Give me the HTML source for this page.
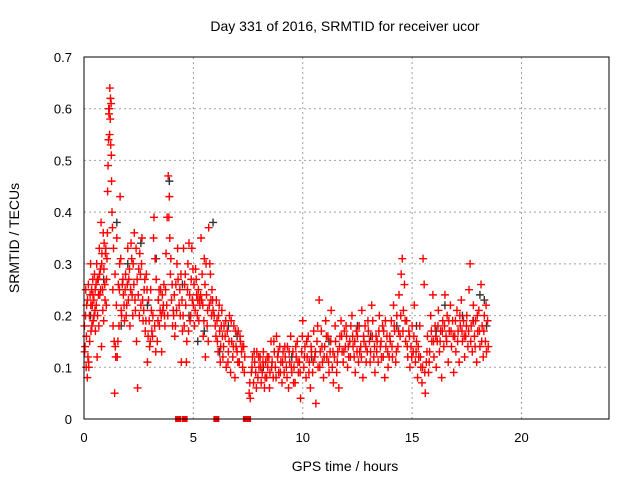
<!DOCTYPE html>
<html><head><meta charset="utf-8"><style>
body{margin:0;background:#fff}
svg{display:block;font-family:"Liberation Sans",sans-serif}
</style></head><body>
<svg id="chart" width="640" height="480" viewBox="0 0 640 480" xmlns="http://www.w3.org/2000/svg">
<rect width="640" height="480" fill="#fff"/>
<text x="345" y="31" font-size="14" text-anchor="middle">Day 331 of 2016, SRMTID for receiver ucor</text>
<text transform="translate(19,238) rotate(-90)" font-size="14" text-anchor="middle">SRMTID / TECUs</text>
<text x="345" y="471" font-size="14" text-anchor="middle">GPS time / hours</text>
<g id="grid"></g><g id="ticks"></g><g id="marks"></g>
<rect x="84" y="57" width="525" height="362" fill="none" stroke="#000" stroke-width="1"/>
</svg>
<script>
const xTicks=[0,5,10,15,20];
const yTicks=[0,0.1,0.2,0.3,0.4,0.5,0.6,0.7];
const yTickLabels=["0","0.1","0.2","0.3","0.4","0.5","0.6","0.7"];
const zeroTimes=[4.3,4.6,6.05,7.4,7.5];
const grayPoints=[[0.3,.20],[1.5,.38],[2.0,.30],[3.3,.31],[3.9,.46],[5.9,.38],[5.5,.17],[4.5,.26],[7.0,.16],[9.5,.12],[11.2,.15],[12.5,.18],[14.3,.18],[15.2,.18],[16.5,.22],[17.3,.20],[18.3,.23],[18.4,.18],[2.9,.22],[6.2,.13],[0.9,.27],[1.7,.18],[2.6,.34],[3.4,.23],[4.8,.20],[5.2,.15],[6.6,.18],[8.2,.10],[10.4,.12],[13.1,.16],[16.1,.17],[17.8,.19],[18.1,.24]];
const redPoints=[[0.02,.18],[0.05,.14],[0.08,.25],[0.1,.10],[0.12,.22],[0.15,.08],[0.18,.12],[0.2,.26],[0.22,.10],[0.25,.20],[0.28,.24],[0.3,.30],[0.32,.17],[0.35,.25],[0.38,.22],[0.4,.27],[0.42,.19],[0.45,.23],[0.48,.28],[0.5,.21],[0.52,.17],[0.55,.26],[0.58,.30],[0.6,.12],[0.62,.20],[0.65,.27],[0.68,.18],[0.7,.33],[0.72,.24],[0.75,.29],[0.78,.38],[0.8,.14],[0.82,.32],[0.85,.25],[0.88,.36],[0.9,.19],[0.92,.34],[0.95,.26],[0.98,.32],
[1.0,.33],[1.02,.22],[1.05,.31],[1.08,.44],[1.1,.49],[1.12,.54],[1.14,.59],[1.16,.60],[1.18,.64],[1.2,.58],[1.22,.53],[1.24,.61],[1.26,.46],[1.28,.40],[1.3,.37],[1.32,.25],[1.35,.33],[1.38,.15],[1.4,.05],[1.42,.28],[1.45,.12],[1.48,.22],
[1.5,.35],[1.55,.15],[1.6,.18],[1.62,.25],[1.65,.43],[1.68,.31],[1.7,.21],[1.75,.26],[1.8,.24],[1.85,.19],[1.9,.28],[1.95,.22],[2.0,.33],[2.05,.27],[2.1,.18],[2.15,.34],[2.2,.24],[2.25,.30],[2.3,.36],[2.35,.21],[2.4,.15],[2.45,.06],[2.5,.29],
[2.55,.32],[2.6,.22],[2.65,.35],[2.7,.19],[2.75,.25],[2.8,.17],[2.85,.28],[2.9,.11],[2.95,.23],[3.0,.14],[3.05,.25],[3.1,.17],[3.15,.20],[3.2,.39],[3.25,.31],[3.3,.27],[3.35,.15],[3.4,.23],[3.45,.18],[3.5,.25],
[3.55,.13],[3.6,.21],[3.65,.26],[3.7,.18],[3.75,.32],[3.8,.39],[3.85,.47],[3.9,.43],[3.92,.35],[3.95,.28],[4.0,.23],[4.05,.18],[4.1,.20],[4.15,.16],[4.2,.26],[4.25,.30],[4.3,.27],[4.35,.22],[4.4,.20],[4.45,.11],[4.5,.17],
[4.55,.33],[4.6,.26],[4.65,.22],[4.7,.15],[4.75,.30],[4.8,.34],[4.85,.19],[4.9,.27],[4.95,.23],[5.0,.22],[5.05,.18],[5.1,.29],[5.15,.24],[5.2,.23],[5.25,.19],[5.3,.22],[5.35,.35],[5.4,.28],[5.45,.16],[5.5,.31],[5.55,.12],[5.6,.24],[5.65,.21],[5.7,.37],[5.75,.30],[5.8,.23],[5.85,.25],[5.9,.21],
[6.0,.18],[6.05,.23],[6.1,.15],[6.15,.20],[6.2,.17],[6.25,.14],[6.3,.21],[6.35,.12],[6.4,.18],[6.45,.16],[6.5,.10],[6.55,.17],[6.6,.13],[6.65,.20],[6.7,.09],[6.75,.15],[6.8,.12],[6.85,.18],[6.9,.08],[6.95,.14],[7.0,.13],[7.05,.17],[7.1,.11],[7.15,.15],[7.2,.13],[7.25,.10],[7.3,.14],[7.35,.12],
[7.55,.05],[7.6,.04],[7.65,.09],[7.7,.12],[7.75,.07],[7.8,.11],[7.85,.09],[7.9,.13],[7.95,.08],[8.0,.10],[8.05,.12],[8.1,.07],[8.15,.09],[8.2,.13],[8.25,.06],[8.3,.11],[8.35,.08],[8.4,.10],[8.45,.12],[8.5,.09],[8.55,.15],[8.6,.11],[8.65,.08],[8.7,.13],[8.75,.10],[8.8,.16],[8.85,.12],[8.9,.09],[8.95,.14],[9.0,.11],[9.05,.07],[9.1,.13],[9.15,.09],[9.2,.12],[9.25,.10],[9.3,.14],[9.35,.06],[9.4,.11],[9.45,.16],[9.5,.09],[9.55,.13],[9.6,.10],[9.65,.07],[9.7,.12],[9.75,.15],[9.8,.09],[9.85,.11],[9.9,.04],[9.95,.13],
[10.0,.19],[10.05,.10],[10.1,.14],[10.15,.08],[10.2,.12],[10.25,.16],[10.3,.11],[10.35,.06],[10.4,.13],[10.45,.09],[10.5,.17],[10.55,.12],[10.6,.03],[10.65,.15],[10.7,.10],[10.75,.23],[10.8,.13],[10.85,.17],[10.9,.11],[10.95,.08],[11.0,.14],[11.05,.19],[11.1,.12],[11.15,.16],[11.2,.09],[11.25,.13],[11.3,.21],[11.35,.10],[11.4,.07],[11.45,.12],[11.5,.15],[11.55,.09],[11.6,.13],[11.65,.06],[11.7,.16],[11.75,.19],[11.8,.13],[11.85,.11],[11.9,.17],[11.95,.14],[12.0,.16],[12.1,.12],[12.2,.18],[12.3,.14],[12.4,.09],[12.5,.16],[12.6,.13],[12.7,.21],[12.8,.15],[12.9,.11],[13.0,.17],[13.1,.13],[13.2,.19],[13.3,.09],[13.4,.15],[13.5,.20],[13.6,.12],[13.7,.17],[13.8,.14],[13.9,.10],[12.05,.10],[12.15,.15],[12.25,.20],[12.35,.12],[12.45,.17],[12.55,.11],[12.65,.14],[12.75,.08],[12.85,.18],[12.95,.13],[13.05,.15],[13.15,.22],[13.25,.12],[13.35,.16],[13.45,.11],[13.55,.14],[13.65,.18],[13.75,.08],[13.85,.16],[13.95,.12],
[14.0,.15],[14.05,.19],[14.1,.12],[14.15,.22],[14.2,.17],[14.25,.11],[14.3,.20],[14.35,.14],[14.4,.24],[14.45,.16],[14.5,.28],[14.55,.31],[14.6,.21],[14.65,.26],[14.7,.15],[14.75,.19],[14.8,.12],[14.85,.17],[14.9,.10],[14.95,.14],
[15.0,.18],[15.05,.13],[15.1,.22],[15.15,.11],[15.2,.15],[15.25,.08],[15.3,.12],[15.35,.18],[15.4,.10],[15.45,.07],[15.5,.31],[15.55,.26],[15.6,.05],[15.65,.11],[15.7,.16],[15.75,.09],[15.8,.13],[15.85,.20],[15.9,.15],[15.95,.24],
[16.0,.12],[16.05,.18],[16.1,.10],[16.15,.15],[16.2,.21],[16.25,.13],[16.3,.17],[16.35,.08],[16.4,.19],[16.45,.14],[16.5,.24],[16.55,.16],[16.6,.20],[16.65,.11],[16.7,.17],[16.75,.22],[16.8,.14],[16.85,.19],[16.9,.09],[16.95,.16],[17.0,.13],[17.05,.21],[17.1,.17],[17.15,.11],[17.2,.18],[17.25,.23],[17.3,.15],[17.35,.19],[17.4,.12],[17.45,.16],[17.5,.20],[17.55,.14],[17.6,.25],[17.65,.30],[17.7,.18],[17.75,.13],[17.8,.22],[17.85,.16],[17.9,.19],[17.95,.11],[18.0,.17],[18.05,.21],[18.1,.14],[18.15,.26],[18.2,.18],[18.25,.12],[18.3,.20],[18.35,.15],[18.4,.13],[18.45,.19]];
const redPoints2=[[0.03,.13],[0.07,.20],[0.11,.16],[0.16,.23],[0.21,.11],[0.26,.15],[0.31,.22],[0.36,.18],[0.41,.24],[0.46,.20],[0.51,.25],[0.56,.22],[0.61,.27],[0.66,.24],[0.71,.28],[0.76,.25],[0.81,.30],[0.86,.21],[0.91,.29],[0.96,.23],[1.03,.27],[1.07,.36],[1.13,.60],[1.17,.55],[1.21,.62],[1.25,.51],[1.33,.18],[1.43,.14],[1.52,.12],[1.57,.26],[1.63,.30],[1.72,.20],[1.78,.27],[1.83,.22],[1.88,.25],[1.93,.20],[1.98,.26],[2.03,.23],[2.08,.29],[2.13,.25],[2.18,.31],[2.23,.20],[2.28,.26],[2.33,.23],[2.38,.33],[2.43,.27],[2.48,.24],[2.53,.20],[2.58,.28],[2.63,.30],[2.68,.23],[2.73,.21],[2.78,.27],[2.83,.19],[2.88,.25],[2.93,.16],[2.98,.19],[3.03,.15],[3.08,.21],[3.13,.16],[3.18,.35],[3.23,.18],[3.28,.13],[3.38,.19],[3.43,.25],[3.48,.21],[3.53,.20],[3.58,.24],[3.63,.22],[3.68,.20],[3.73,.25],[3.78,.22],[3.83,.20],[3.88,.39],[3.97,.31],[4.03,.26],[4.08,.21],[4.13,.24],[4.18,.18],[4.23,.21],[4.28,.33],[4.38,.25],[4.43,.28],[4.48,.23],[4.53,.20],[4.58,.18],[4.63,.28],[4.68,.11],[4.73,.25],[4.78,.17],[4.83,.24],[4.88,.20],[4.93,.33],[4.98,.29],[5.03,.26],[5.08,.21],[5.13,.27],[5.18,.20],[5.23,.25],[5.28,.23],[5.33,.24],[5.38,.23],[5.43,.22],[5.48,.19],[5.53,.26],[5.58,.30],[5.63,.18],[5.68,.15],[5.73,.22],[5.78,.28],[5.83,.20],[5.88,.23],[5.95,.20],[6.03,.16],[6.08,.19],[6.13,.13],[6.18,.22],[6.23,.11],[6.28,.18],[6.33,.16],[6.38,.14],[6.48,.19],[6.58,.11],[6.63,.15],[6.73,.19],[6.83,.14],[6.93,.17],[7.03,.11],[7.13,.16],[7.23,.14],[7.33,.09],
[7.58,.07],[7.68,.10],[7.78,.13],[7.88,.06],[7.98,.12],[8.08,.10],[8.18,.11],[8.28,.08],[8.38,.12],[8.48,.06],[8.58,.10],[8.68,.15],[8.78,.08],[8.88,.13],[8.98,.09],[9.08,.11],[9.18,.14],[9.28,.08],[9.38,.13],[9.48,.10],[9.58,.07],[9.68,.14],[9.78,.11],[9.88,.09],[9.98,.16],[10.08,.12],[10.18,.15],[10.28,.09],[10.38,.14],[10.48,.11],[10.58,.13],[10.68,.18],[10.78,.10],[10.88,.14],[10.98,.12],[11.08,.16],[11.18,.11],[11.28,.15],[11.38,.13],[11.48,.18],[11.58,.11],[11.68,.14],[11.78,.16],[11.88,.13],[11.98,.18],[12.08,.14],[12.18,.12],[12.28,.16],[12.38,.15],[12.48,.13],[12.58,.18],[12.68,.12],[12.78,.16],[12.88,.14],[12.98,.19],[13.08,.11],[13.18,.16],[13.28,.14],[13.38,.13],[13.48,.17],[13.58,.15],[13.68,.12],[13.78,.19],[13.88,.13],[13.98,.16],[14.08,.14],[14.18,.18],[14.28,.13],[14.38,.17],[14.48,.20],[14.58,.17],[14.68,.19],[14.78,.14],[14.88,.16],[14.98,.12],[15.08,.16],[15.18,.13],[15.28,.14],[15.38,.12],[15.48,.10],[15.58,.09],[15.68,.13],[15.78,.11],[15.88,.17],[15.98,.15],[16.08,.16],[16.18,.18],[16.28,.15],[16.38,.17],[16.48,.18],[16.58,.15],[16.68,.19],[16.78,.17],[16.88,.16],[16.98,.19],[17.08,.15],[17.18,.20],[17.28,.17],[17.38,.16],[17.48,.18],[17.58,.17],[17.68,.15],[17.78,.19],[17.88,.14],[17.98,.20],[18.08,.17],[18.18,.15],[18.28,.17],[18.38,.22],[18.48,.14]];

const NS="http://www.w3.org/2000/svg";
const X0=84,X1=609,Y0=419,Y1=57,XMAX=24,YMAX=0.7;
function xs(t){return X0+(X1-X0)*t/XMAX;}
function ys(v){return Y0-(Y0-Y1)*v/YMAX;}
function mk(tag,attrs,parent){const e=document.createElementNS(NS,tag);for(const k in attrs)e.setAttribute(k,attrs[k]);parent.appendChild(e);return e;}
const grid=document.getElementById('grid'),ticks=document.getElementById('ticks'),marks=document.getElementById('marks');
xTicks.forEach(t=>{
  const x=xs(t);
  if(t>0){const g=mk('line',{x1:x,y1:Y1,x2:x,y2:Y0,stroke:'#a0a0a0','stroke-dasharray':'2,3'},grid);
  
  }
  const l=mk('text',{x:x,y:442,'font-size':13,'text-anchor':'middle'},ticks);l.textContent=t;
  
  
});
yTicks.forEach((v,i)=>{
  const y=ys(v);
  if(v>0&&v<YMAX){const g=mk('line',{x1:X0,y1:y,x2:X1,y2:y,stroke:'#a0a0a0','stroke-dasharray':'2,3'},grid);
  
  }
  const l=mk('text',{x:72,y:y+5,'font-size':13,'text-anchor':'end'},ticks);l.textContent=yTickLabels[i];
  
  
});
function plus(t,v,color,name){
  const x=xs(t),y=ys(v);
  const p=mk('path',{d:`M${x-4},${y}h8M${x},${y-4}v8`,stroke:color,'stroke-width':1.4,fill:'none'},marks);
  
  
}
grayPoints.forEach(p=>plus(p[0],p[1],'#333','gray-point'));
redPoints.forEach(p=>plus(p[0],p[1],'#ff0000','red-point'));
redPoints2.forEach(p=>plus(p[0],p[1],'#ff0000','red-point'));
zeroTimes.forEach(t=>{
  const r=mk('rect',{x:xs(t)-3,y:Y0-3,width:6,height:6,fill:'#ff0000'},marks);
  
  
});
</script>
</body></html>
